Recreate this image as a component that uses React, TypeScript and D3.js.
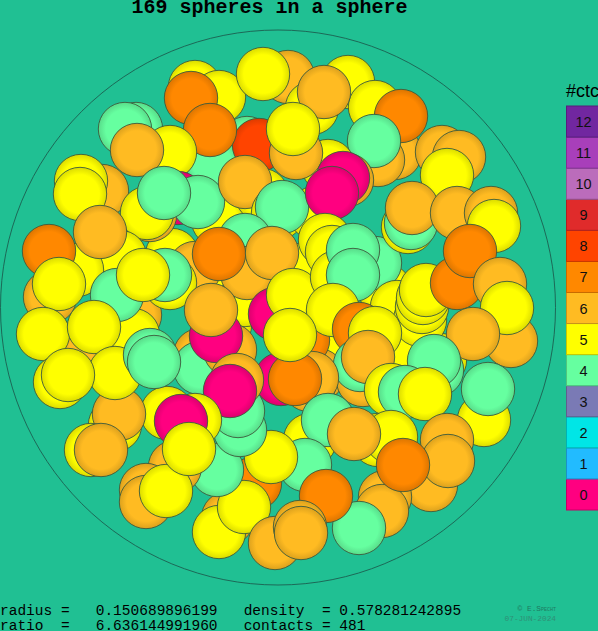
import React from "react";
import * as d3 from "d3";

const ctcLevels = [0,1,2,3,4,5,6,7,8,9,10,11,12];
const ctcColors = ["#ff0080","#22bbff","#00e6e6","#7a7ab5","#66ffa0","#ffff00","#ffbb22","#ff8800","#ff4400","#e02b2b","#bb6cbb","#a83fba","#7127a0"];
// x, y and contact count per sphere, far to near, read on the picture's grid
const sphereX = [172,300,225,345,260,385,440,405,330,88,135,133,210,245,
 195,219,191,288,263,312,348,375,324,395,378,401,374,442,459,447,328,347,
 247,212,259,296,293,210,136,125,170,137,102,81,80,178,150,147,218,198,164,262,245,278,315,282,343,332,
 245,195,247,219,272,120,77,100,49,50,59,117,170,165,143,
 275,318,303,293,200,200,230,216,211,
 325,332,337,375,353,353,397,420,422,423,426,408,411,412,
 457,491,494,457,470,500,511,507,473,
 333,359,375,363,360,368,437,434,391,405,425,484,488,447,431,448,
 309,312,281,295,290,310,378,391,328,354,385,382,359,403,255,305,271,326,
 228,219,244,275,300,301,217,175,146,146,166,
 240,238,237,230,195,167,181,189,115,119,91,101,
 43,94,115,150,154,60,68];
const sphereY = [255,270,325,345,240,290,360,350,300,350,315,335,280,300,
 87,97,98,77,74,108,82,107,92,153,160,116,141,152,157,175,166,180,
 143,163,145,153,129,130,129,129,152,150,191,181,194,198,215,213,220,202,193,195,182,213,213,207,178,193,
 240,268,273,254,253,257,270,232,251,297,284,295,283,275,275,
 314,375,340,295,355,368,350,336,310,
 240,252,277,263,250,275,307,320,307,298,290,227,223,208,
 213,213,226,283,251,284,341,308,334,
 310,329,333,380,365,357,370,361,390,392,394,420,389,440,485,461,
 385,378,379,379,335,440,440,437,420,434,497,511,528,465,483,465,457,496,
 518,532,507,543,527,533,470,467,490,502,491,
 430,411,380,391,420,413,421,449,425,414,450,450,
 334,327,373,355,362,382,375];
const sphereCtc = [5,5,5,5,5,5,5,5,5,6,6,5,5,5,
 5,5,7,6,5,5,5,5,6,6,6,7,4,6,6,5,5,6,
 4,4,8,6,5,7,4,4,5,6,6,5,5,0,6,5,5,4,4,5,6,5,5,4,0,0,
 4,6,6,7,6,5,5,6,7,6,5,4,5,4,5,
 0,6,7,5,6,4,6,0,6,
 5,5,5,4,4,4,5,5,5,5,5,5,4,6,
 6,6,5,7,7,6,6,5,6,
 5,7,5,6,4,6,4,4,5,4,5,5,4,6,6,6,
 6,6,0,7,5,5,5,5,4,6,6,6,4,7,7,4,5,7,
 6,5,5,6,6,6,4,6,6,6,5,
 4,4,6,0,5,5,0,5,5,6,5,6,
 5,5,5,4,4,5,5];
const sphereOrder = d3.range(sphereX.length);
const statLines = ["radius =   0.150689896199   density  = 0.578281242895","ratio  =   6.636144991960   contacts = 481"];
const titleText = "169 spheres in a sphere";
const creditLines = ["© E.Specht","07-JUN-2024"];

const W = 598, H = 631;
const x = d3.scaleLinear().domain([0.5,555.5]).range([0.5,555.5]);
const y = d3.scaleLinear().domain([30,585]).range([30,585]);
const rScale = d3.scaleLinear().domain([0,1]).range([0,277.5]);
const legendY = d3.scaleBand<number>().domain([...ctcLevels].reverse().map(Number)).range([106,510]);

export default function App() {
  return (
    <svg width={W} height={H} viewBox={`0 0 ${W} ${H}`} style={{position:"absolute",left:0,top:0,display:"block"}}>
      <defs>
        {ctcLevels.map((l,i)=>{
          const base = d3.rgb(ctcColors[i]);
          return <radialGradient key={l} id={`g${l}`}>
            <stop offset="0%" stopColor={ctcColors[i]}/>
            <stop offset="72%" stopColor={ctcColors[i]}/>
            <stop offset="100%" stopColor={base.darker(0.42).formatHex()}/>
          </radialGradient>;
        })}
      </defs>
      <rect width={W} height={H} fill="#20c093"/>
      <circle cx={x(278)} cy={y(307.5)} r={rScale(1)} fill="none" stroke="#1c5f50" strokeWidth={0.9}/>
      {sphereOrder.map(i=>(
        <circle key={i} cx={x(sphereX[i])} cy={y(sphereY[i])} r={rScale(0.0962)} fill={`url(#g${sphereCtc[i]})`} stroke="#3c5a3c" strokeWidth={0.9}/>
      ))}
      <text x={269.5} y={13} textAnchor="middle" fontFamily="Liberation Mono" fontWeight="bold" fontSize={20} fill="#000">{titleText}</text>
      {ctcLevels.map((l,i)=>(
        <g key={l}>
          <rect x={566.5} y={legendY(l)!} width={40} height={legendY.bandwidth()} fill={ctcColors[i]} stroke={d3.rgb(ctcColors[i]).darker(0.7).formatHex()} strokeWidth={1}/>
          <text x={583.5} y={legendY(l)!+legendY.bandwidth()/2+5.5} textAnchor="middle" fontFamily="Liberation Sans" fontSize={14.5} fill="#111">{l}</text>
        </g>
      ))}
      <text x={566} y={97} fontFamily="Liberation Sans" fontSize={18} fill="#000">#ctc</text>
      {statLines.map((s,i)=>(
        <text key={i} x={0} y={615+i*15} fontFamily="Liberation Mono" fontSize={14.5} fill="#000" xmlSpace="preserve" style={{whiteSpace:"pre"}}>{s}</text>
      ))}
      <text x={556} y={611} textAnchor="end" fontFamily="Liberation Mono" fontSize={7.8} fill="#1f7a62" style={{fontVariant:"small-caps"}}>{creditLines[0]}</text>
      <text x={556} y={620.5} textAnchor="end" fontFamily="Liberation Mono" fontSize={7.8} fill="#2f8f76">{creditLines[1]}</text>
    </svg>
  );
}
